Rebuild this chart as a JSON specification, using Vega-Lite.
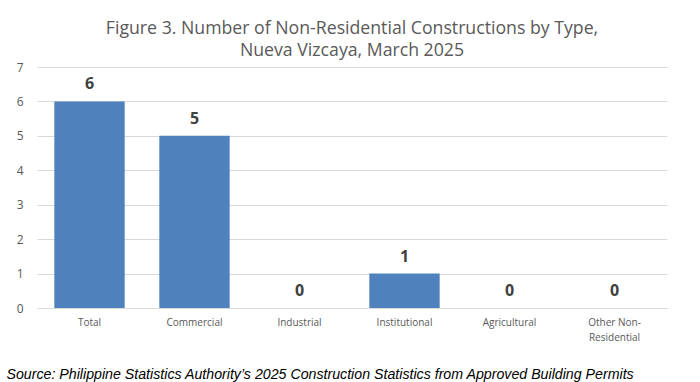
{
  "$schema": "https://vega.github.io/schema/vega-lite/v6.json",
  "autosize": {"type": "none"},
  "width": 630,
  "height": 241,
  "padding": {"left": 37, "top": 67, "right": 33, "bottom": 74},
  "background": "white",
  "title": {
    "text": ["Figure 3. Number of Non-Residential Constructions by Type,", "Nueva Vizcaya, March 2025"],
    "font": "Open Sans",
    "fontSize": 17.7,
    "fontWeight": "normal",
    "color": "#595959",
    "anchor": "middle",
    "frame": "group",
    "offset": 1,
    "lineHeight": 22
  },
  "data": {
    "values": [
      {"type": "Total", "count": 6},
      {"type": "Commercial", "count": 5},
      {"type": "Industrial", "count": 0},
      {"type": "Institutional", "count": 1},
      {"type": "Agricultural", "count": 0},
      {"type": "Other Non-Residential", "count": 0}
    ]
  },
  "encoding": {
    "x": {
      "field": "type",
      "type": "nominal",
      "sort": null,
      "scale": {"paddingInner": 0.33, "paddingOuter": 0.165},
      "axis": {
        "title": "Source: Philippine Statistics Authority\u2019s 2025 Construction Statistics from Approved Building Permits",
        "titleFont": "Liberation Sans",
        "titleFontStyle": "italic",
        "titleFontWeight": "normal",
        "titleFontSize": 14.2,
        "titleColor": "#000000",
        "titleAnchor": "start",
        "titleAlign": "left",
        "titleX": -31,
        "titleY": 70,
        "titleBaseline": "alphabetic",
        "labelAngle": 0,
        "labelFont": "Open Sans",
        "labelFontSize": 10,
        "labelColor": "#595959",
        "labelPadding": 9,
        "labelLineHeight": 15,
        "labelExpr": "datum.label == 'Other Non-Residential' ? ['Other Non-', 'Residential'] : datum.label",
        "ticks": false,
        "domainColor": "#d9d9d9",
        "grid": false
      }
    },
    "y": {
      "field": "count",
      "type": "quantitative",
      "scale": {"domain": [0, 7], "nice": false},
      "axis": {
        "title": null,
        "values": [0, 1, 2, 3, 4, 5, 6, 7],
        "labelOverlap": false,
        "labelFont": "Open Sans",
        "labelFontSize": 12,
        "labelColor": "#595959",
        "labelPadding": 14,
        "ticks": false,
        "domain": false,
        "gridColor": "#d9d9d9"
      }
    }
  },
  "layer": [
    {"mark": {"type": "bar", "color": "#4F81BD"}},
    {
      "mark": {
        "type": "text",
        "baseline": "bottom",
        "dy": -9,
        "font": "Open Sans",
        "fontSize": 16,
        "fontWeight": "bold",
        "color": "#404040"
      },
      "encoding": {"text": {"field": "count", "type": "quantitative"}}
    }
  ],
  "config": {"view": {"stroke": null}}
}
